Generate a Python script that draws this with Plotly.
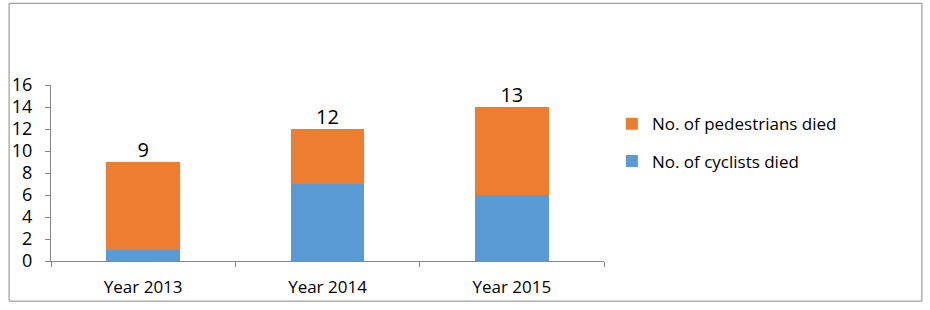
import plotly.graph_objects as go

categories = ["Year 2013", "Year 2014", "Year 2015"]
cyclists = [1, 7, 6]
pedestrians = [8, 5, 8]
total_labels = ["9", "12", "13"]
y_ticks = [0, 2, 4, 6, 8, 10, 12, 14, 16]

W, H = 930, 310
ml, mr, mt, mb = 43, 326, 85, 43
pw, ph = W - ml - mr, H - mt - mb

FONT = "Open Sans"
axis_col = "#868686"

fig = go.Figure()
fig.add_trace(go.Bar(x=categories, y=cyclists, name="No. of cyclists died",
                     legendgroup="c", legendrank=2,
                     marker=dict(color="#5B9BD5", line=dict(width=0))))
fig.add_trace(go.Bar(x=categories, y=pedestrians, name="No. of pedestrians died",
                     legendgroup="p", legendrank=1,
                     marker=dict(color="#ED7D31", line=dict(width=0))))
tops = [c + p for c, p in zip(cyclists, pedestrians)]
fig.add_trace(go.Scatter(x=categories, y=tops, mode="text", text=total_labels,
                         textposition="top center", showlegend=False,
                         textfont=dict(family=FONT, size=20, color="#000000"),
                         hoverinfo="skip", cliponaxis=False))

def px_x(p):
    return (p - ml) / pw

def px_y(p):
    return (H - mb - p) / ph

fig.add_shape(type="rect", xref="paper", yref="paper",
              x0=px_x(0.5), x1=px_x(926.5), y0=px_y(308.5), y1=px_y(0.5),
              line=dict(color="#888888", width=1), fillcolor="rgba(0,0,0,0)", layer="below")

fig.update_layout(
    width=W, height=H,
    margin=dict(l=ml, r=mr, t=mt, b=mb, pad=0),
    barmode="stack", bargap=0.6,
    paper_bgcolor="white", plot_bgcolor="white",
    font=dict(family=FONT, size=17, color="#000000"),
    showlegend=True,
    legend=dict(x=px_x(612), y=px_y(107), xanchor="left", yanchor="top",
                traceorder="grouped", font=dict(family=FONT, size=17, color="#000000"),
                itemsizing="constant", tracegroupgap=12, itemwidth=30,
                bgcolor="rgba(0,0,0,0)"),
    xaxis=dict(showgrid=False, showline=True, linecolor=axis_col, linewidth=1,
               ticks="outside", tickson="boundaries", ticklen=5, tickcolor=axis_col,
               ticklabelstandoff=11,
               tickfont=dict(family=FONT, size=17, color="#000000"), zeroline=False),
    yaxis=dict(range=[0, 16], tickvals=y_ticks, showgrid=False, showline=True,
               linecolor=axis_col, linewidth=1, ticks="outside", ticklen=5,
               tickcolor=axis_col, zeroline=False, ticklabelstandoff=9,
               tickfont=dict(family=FONT, size=18, color="#000000")),
)

fig.write_html("out.html", config={"displayModeBar": False},
               post_script="document.body.style.margin='0px';")
